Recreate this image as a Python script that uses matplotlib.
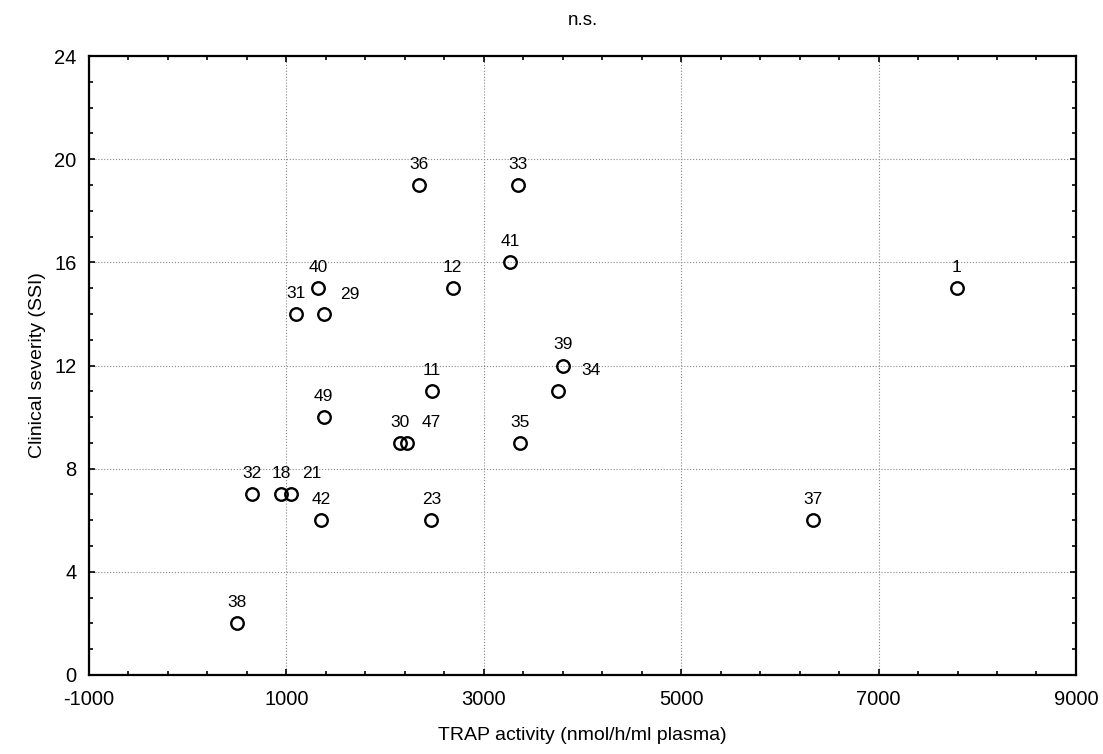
import matplotlib.pyplot as plt
from matplotlib.ticker import MultipleLocator

plt.rcParams['font.family'] = ['Liberation Sans', 'DejaVu Sans']
plt.rcParams['axes.unicode_minus'] = False

# Datos
pacientes = ['38', '32', '18', '21', '42', '23', '31', '40', '29', '12', '41', '11',
             '49', '30', '47', '35', '39', '34', '36', '33', '1', '37']
trap = [500, 650, 950, 1050, 1350, 2470, 1100, 1325, 1376, 2685, 3264, 2472,
        1376, 2147, 2218, 3365, 3802, 3751, 2340, 3345, 7792, 6340]
ssi = [2, 7, 7, 7, 6, 6, 14, 15, 14, 15, 16, 11,
       10, 9, 9, 9, 12, 11, 19, 19, 15, 6]

# Desplazamientos de etiquetas (puntos) que no van centradas encima
desplaz = {'29': (19, 14), '21': (15, 15), '47': (18, 15), '34': (24, 15)}

fig = plt.figure(figsize=(11.03, 7.54), dpi=100)
ax = fig.add_axes([0.0807, 0.1048, 0.8948, 0.8209])

ax.plot(trap, ssi, 'o', mfc='none', mec='black', ms=9, mew=1.7, zorder=3)

for nombre, x, y in zip(pacientes, trap, ssi):
    dx, dy = desplaz.get(nombre, (0, 15))
    ax.annotate(nombre, (x, y), xytext=(dx, dy), textcoords='offset points',
                ha='center', va='center', fontsize=12.5)

ax.set_xlim(-1000, 9000)
ax.set_ylim(0, 24)
ax.xaxis.set_major_locator(MultipleLocator(2000, offset=1000))
ax.xaxis.set_minor_locator(MultipleLocator(400, offset=200))
ax.yaxis.set_major_locator(MultipleLocator(4))
ax.yaxis.set_minor_locator(MultipleLocator(1))
ax.tick_params(which='both', direction='in', top=True, right=True, width=1.2)
ax.tick_params(which='major', length=4, labelsize=14.5)
ax.tick_params(which='minor', length=3)
ax.tick_params(axis='x', which='major', pad=11)
ax.tick_params(axis='y', which='major', pad=9)
for s in ax.spines.values():
    s.set_linewidth(1.6)

ax.grid(True, which='major', color='#888888', linestyle=':', linewidth=0.8)

ax.set_xlabel("TRAP activity (nmol/h/ml plasma)", fontsize=14, labelpad=13)
ax.set_ylabel("Clinical severity (SSI)", fontsize=14, labelpad=6)
ax.set_title("n.s.", fontsize=13.5, pad=22)

plt.savefig('out.png', dpi=100)
